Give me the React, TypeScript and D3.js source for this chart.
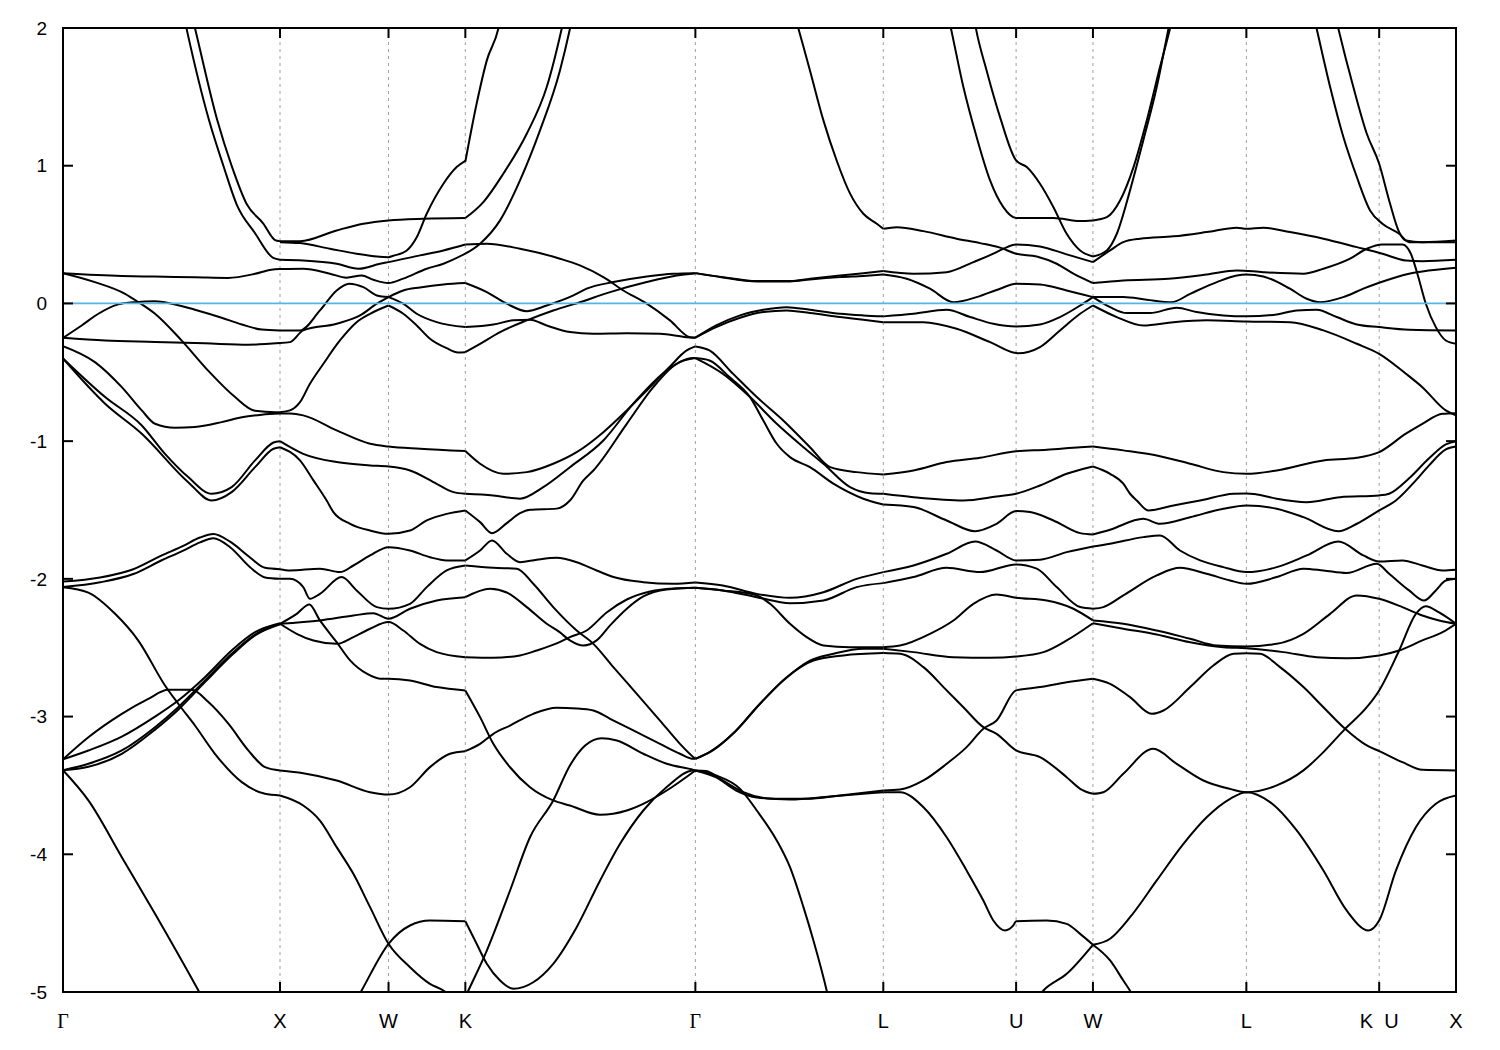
import { useEffect, useRef } from "react";
import * as d3 from "d3";

type Pt = [number, number];

// path coordinate of the high-symmetry points (units of 2pi/a)
const kTicks = [0, 1, 1.5, 1.854, 2.914, 3.78, 4.392, 4.746, 5.453, 6.065, 6.419];
const kLabels = ["Γ", "X", "W", "K", "Γ", "L", "U", "W", "L", "K  U", "X"];
const eTicks = [2, 1, 0, -1, -2, -3, -4, -5];

// Γ - X
const bandsGX: Pt[][] = [
  [[0.585, 2.15], [0.608, 2.0], [0.711, 1.33], [0.777, 1.0], [0.847, 0.72], [0.923, 0.58], [0.977, 0.46], [1, 0.452]],
  [[0.548, 2.15], [0.57, 1.99], [0.673, 1.33], [0.739, 1.0], [0.8, 0.72], [0.885, 0.51], [0.969, 0.33], [1, 0.317]],
  [[0, 0.22], [0.27, 0.2], [0.42, 0.195], [0.61, 0.19], [0.76, 0.185], [0.885, 0.215], [0.96, 0.245], [1, 0.25]],
  [[0, 0.22], [0.147, 0.155], [0.286, 0.07], [0.347, 0.01], [0.424, -0.075], [0.547, -0.27], [0.67, -0.49], [0.793, -0.68], [0.885, -0.78], [0.977, -0.79], [1, -0.79]],
  [[0, -0.25], [0.086, -0.16], [0.163, -0.075], [0.255, -0.007], [0.332, 0.009], [0.424, 0.015], [0.501, -0.002], [0.608, -0.046], [0.731, -0.104], [0.824, -0.153], [0.916, -0.19], [1, -0.196]],
  [[0, -0.25], [0.194, -0.27], [0.424, -0.28], [0.654, -0.29], [0.854, -0.3], [1, -0.288]],
  [[0, -0.31], [0.147, -0.426], [0.271, -0.608], [0.363, -0.777], [0.424, -0.874], [0.516, -0.903], [0.608, -0.898], [0.731, -0.862], [0.824, -0.826], [0.916, -0.808], [1, -0.8]],
  [[0, -0.4], [0.194, -0.68], [0.363, -0.886], [0.47, -1.092], [0.577, -1.261], [0.685, -1.382], [0.777, -1.334], [0.885, -1.14], [0.97, -1.01], [1, -1.0]],
  [[0, -0.4], [0.194, -0.728], [0.363, -0.946], [0.577, -1.298], [0.685, -1.431], [0.777, -1.37], [0.885, -1.189], [0.97, -1.055], [1, -1.044]],
  [[0, -2.02], [0.171, -1.99], [0.324, -1.93], [0.455, -1.83], [0.554, -1.76], [0.631, -1.7], [0.693, -1.675], [0.77, -1.73], [0.862, -1.845], [0.931, -1.92], [1, -1.93]],
  [[0, -2.06], [0.171, -2.025], [0.324, -1.965], [0.455, -1.865], [0.554, -1.795], [0.631, -1.735], [0.693, -1.705], [0.77, -1.77], [0.862, -1.915], [0.931, -1.99], [1, -2.0]],
  [[0, -2.06], [0.117, -2.1], [0.24, -2.254], [0.347, -2.448], [0.47, -2.774], [0.531, -2.907], [0.608, -3.065], [0.7, -3.27], [0.824, -3.476], [0.931, -3.561], [1, -3.573]],
  [[0, -3.31], [0.117, -3.15], [0.271, -2.98], [0.393, -2.871], [0.485, -2.806], [0.593, -2.806], [0.67, -2.895], [0.762, -3.052], [0.854, -3.246], [0.931, -3.367], [1, -3.391]],
  [[0, -3.31], [0.117, -3.246], [0.271, -3.145], [0.424, -3.0], [0.531, -2.883], [0.654, -2.714], [0.777, -2.52], [0.885, -2.387], [1, -2.322]],
  [[0, -3.39], [0.117, -3.343], [0.271, -3.246], [0.424, -3.077], [0.531, -2.932], [0.654, -2.738], [0.777, -2.544], [0.885, -2.404], [1, -2.326]],
  [[0, -3.39], [0.117, -3.365], [0.271, -3.27], [0.424, -3.095], [0.531, -2.95], [0.654, -2.75], [0.777, -2.555], [0.885, -2.41], [1, -2.33]],
  [[0, -3.39], [0.117, -3.609], [0.271, -4.021], [0.424, -4.432], [0.624, -4.989], [0.68, -5.15]],
];

// X - W - K
const bandsXWK: Pt[][] = [
  [[1, 0.452], [1.092, 0.452], [1.261, 0.53], [1.384, 0.579], [1.5, 0.603], [1.66, 0.615], [1.854, 0.62]],
  [[1, 0.445], [1.092, 0.438], [1.23, 0.397], [1.353, 0.361], [1.446, 0.34], [1.5, 0.336], [1.522, 0.346], [1.584, 0.385], [1.63, 0.481], [1.676, 0.651], [1.753, 0.869], [1.814, 0.99], [1.854, 1.035]],
  [[1, 0.317], [1.107, 0.312], [1.261, 0.288], [1.361, 0.252], [1.461, 0.288], [1.5, 0.3], [1.645, 0.349], [1.753, 0.385], [1.854, 0.428]],
  [[1, 0.25], [1.107, 0.252], [1.23, 0.216], [1.307, 0.187], [1.376, 0.203], [1.43, 0.172], [1.5, 0.148], [1.568, 0.18], [1.676, 0.252], [1.753, 0.288], [1.854, 0.361]],
  [[1, -0.196], [1.092, -0.196], [1.184, -0.051], [1.261, 0.094], [1.318, 0.143], [1.384, 0.118], [1.446, 0.058], [1.5, 0.046]],
  [[1, -0.288], [1.046, -0.281], [1.107, -0.196], [1.261, -0.147], [1.369, -0.087], [1.446, -0.002], [1.5, 0.046]],
  [[1, -0.79], [1.046, -0.777], [1.092, -0.717], [1.138, -0.583], [1.2, -0.438], [1.276, -0.269], [1.353, -0.136], [1.415, -0.075], [1.5, -0.015]],
  [[1.5, 0.046], [1.568, 0.094], [1.645, 0.116], [1.753, 0.138], [1.854, 0.148]],
  [[1.5, 0.046], [1.568, -0.002], [1.63, -0.075], [1.722, -0.136], [1.854, -0.172]],
  [[1.5, -0.015], [1.568, -0.075], [1.63, -0.16], [1.691, -0.256], [1.768, -0.325], [1.82, -0.356], [1.854, -0.354]],
  [[1, -0.8], [1.046, -0.8], [1.107, -0.813], [1.261, -0.922], [1.415, -1.019], [1.5, -1.039], [1.645, -1.055], [1.854, -1.072]],
  [[1, -1.0], [1.107, -1.092], [1.261, -1.152], [1.415, -1.176], [1.5, -1.184], [1.599, -1.213], [1.722, -1.31], [1.799, -1.37], [1.854, -1.382]],
  [[1, -1.044], [1.092, -1.14], [1.154, -1.285], [1.215, -1.431], [1.246, -1.515], [1.323, -1.6], [1.415, -1.649], [1.5, -1.673], [1.599, -1.649], [1.676, -1.576], [1.768, -1.528], [1.854, -1.503]],
  [[1, -1.93], [1.046, -1.939], [1.184, -1.926], [1.276, -1.951], [1.338, -1.903], [1.415, -1.83], [1.5, -1.77], [1.599, -1.794], [1.691, -1.843], [1.768, -1.866], [1.854, -1.866]],
  [[1, -2.0], [1.046, -2.0], [1.107, -2.06], [1.138, -2.145], [1.184, -2.109], [1.284, -1.987], [1.353, -2.084], [1.446, -2.205], [1.5, -2.217], [1.599, -2.181], [1.676, -2.06], [1.768, -1.939], [1.854, -1.903]],
  [[1, -2.326], [1.077, -2.254], [1.135, -2.186], [1.184, -2.302], [1.261, -2.46], [1.323, -2.592], [1.4, -2.689], [1.461, -2.725], [1.5, -2.725], [1.599, -2.738], [1.722, -2.786], [1.854, -2.81]],
  [[1, -2.326], [1.184, -2.302], [1.338, -2.266], [1.43, -2.249], [1.5, -2.29], [1.599, -2.217], [1.722, -2.157], [1.854, -2.133]],
  [[1, -2.326], [1.077, -2.399], [1.154, -2.448], [1.261, -2.472], [1.338, -2.423], [1.415, -2.362], [1.5, -2.314], [1.568, -2.375], [1.645, -2.472], [1.722, -2.532], [1.854, -2.569]],
  [[1, -3.391], [1.107, -3.411], [1.261, -3.464], [1.415, -3.549], [1.5, -3.566], [1.599, -3.513], [1.691, -3.367], [1.783, -3.27], [1.854, -3.251]],
  [[1, -3.573], [1.107, -3.646], [1.184, -3.755], [1.261, -3.948], [1.338, -4.142], [1.415, -4.384], [1.5, -4.65], [1.599, -4.82], [1.691, -4.941], [1.753, -4.989], [1.8, -5.05]],
  [[1.34, -5.09], [1.376, -4.989], [1.5, -4.65], [1.599, -4.517], [1.691, -4.481], [1.854, -4.486]],
];

// K - Γ
const bandsKG: Pt[][] = [
  [[1.854, 1.03], [1.906, 1.45], [1.953, 1.765], [2.006, 1.995], [2.02, 2.1]],
  [[1.854, 0.62], [1.937, 0.736], [2.029, 0.942], [2.137, 1.232], [2.229, 1.571], [2.298, 1.995], [2.31, 2.08]],
  [[1.854, 0.361], [1.922, 0.434], [2.014, 0.603], [2.106, 0.893], [2.198, 1.256], [2.29, 1.692], [2.336, 1.995], [2.35, 2.1]],
  [[1.854, 0.428], [1.953, 0.434], [2.106, 0.397], [2.29, 0.325], [2.382, 0.276], [2.49, 0.191], [2.582, 0.094], [2.69, -0.002], [2.797, -0.123], [2.889, -0.245], [2.914, -0.249]],
  [[1.854, 0.148], [1.953, 0.082], [2.045, -0.002], [2.137, -0.056], [2.229, -0.015], [2.352, 0.058], [2.413, 0.107], [2.536, 0.155], [2.69, 0.196], [2.812, 0.216], [2.914, 0.22]],
  [[1.854, -0.172], [1.983, -0.153], [2.075, -0.123], [2.152, -0.118], [2.229, -0.16], [2.336, -0.208], [2.444, -0.22], [2.598, -0.216], [2.751, -0.22], [2.874, -0.245], [2.914, -0.249]],
  [[1.854, -0.354], [1.922, -0.293], [2.014, -0.208], [2.137, -0.123], [2.259, -0.051], [2.382, 0.009], [2.521, 0.082], [2.69, 0.155], [2.828, 0.203], [2.914, 0.22]],
  [[1.854, -1.072], [1.922, -1.164], [2.029, -1.237], [2.137, -1.225], [2.259, -1.164], [2.367, -1.08], [2.49, -0.935], [2.598, -0.777], [2.69, -0.632], [2.797, -0.458], [2.874, -0.341], [2.914, -0.312]],
  [[1.854, -1.382], [1.983, -1.394], [2.106, -1.418], [2.213, -1.334], [2.336, -1.189], [2.49, -0.995], [2.628, -0.728], [2.782, -0.487], [2.905, -0.397], [2.914, -0.397]],
  [[1.854, -1.503], [1.922, -1.588], [1.977, -1.668], [2.045, -1.595], [2.106, -1.523], [2.152, -1.498], [2.275, -1.49], [2.336, -1.431], [2.398, -1.285], [2.444, -1.213], [2.598, -0.874], [2.72, -0.608], [2.828, -0.438], [2.914, -0.397]],
  [[1.854, -1.866], [1.922, -1.794], [1.977, -1.721], [2.045, -1.818], [2.106, -1.879], [2.183, -1.861], [2.275, -1.847], [2.367, -1.879], [2.459, -1.939], [2.536, -1.987], [2.674, -2.024], [2.812, -2.036], [2.914, -2.026]],
  [[1.854, -1.903], [1.983, -1.92], [2.091, -1.926], [2.167, -2.036], [2.259, -2.205], [2.367, -2.375], [2.444, -2.472], [2.536, -2.641], [2.644, -2.835], [2.751, -3.029], [2.843, -3.198], [2.905, -3.295], [2.914, -3.307]],
  [[1.854, -2.133], [1.968, -2.072], [2.045, -2.099], [2.137, -2.205], [2.229, -2.326], [2.29, -2.389], [2.336, -2.447], [2.398, -2.484], [2.459, -2.447], [2.521, -2.338], [2.598, -2.217], [2.674, -2.128], [2.782, -2.077], [2.914, -2.065]],
  [[1.854, -2.569], [1.983, -2.573], [2.106, -2.556], [2.183, -2.52], [2.275, -2.469], [2.336, -2.423], [2.413, -2.375], [2.505, -2.244], [2.598, -2.15], [2.705, -2.092], [2.812, -2.07], [2.914, -2.065]],
  [[1.854, -2.81], [1.922, -3.004], [1.983, -3.198], [2.06, -3.368], [2.152, -3.513], [2.259, -3.609], [2.336, -3.646], [2.475, -3.713], [2.598, -3.682], [2.69, -3.621], [2.782, -3.537], [2.914, -3.391]],
  [[1.854, -3.251], [1.922, -3.198], [1.983, -3.125], [2.06, -3.065], [2.167, -2.98], [2.275, -2.936], [2.367, -2.941], [2.444, -2.956], [2.521, -3.016], [2.628, -3.1], [2.751, -3.198], [2.843, -3.27], [2.905, -3.307], [2.914, -3.307]],
  [[1.854, -4.486], [1.906, -4.65], [1.953, -4.795], [2.014, -4.917], [2.075, -4.977], [2.167, -4.929], [2.259, -4.795], [2.367, -4.529], [2.475, -4.19], [2.567, -3.924], [2.674, -3.682], [2.782, -3.512], [2.905, -3.391], [2.914, -3.391]],
  [[1.835, -5.1], [1.868, -4.989], [1.953, -4.699], [2.06, -4.263], [2.152, -3.876], [2.259, -3.609], [2.336, -3.355], [2.406, -3.21], [2.482, -3.157], [2.552, -3.174], [2.674, -3.27], [2.782, -3.343], [2.905, -3.387], [2.914, -3.391]],
];

// Γ - L
const bandsGL: Pt[][] = [
  [[3.362, 2.15], [3.389, 1.995], [3.442, 1.692], [3.504, 1.329], [3.565, 1.038], [3.627, 0.797], [3.688, 0.651], [3.75, 0.579], [3.78, 0.542]],
  [[2.914, 0.22], [3.04, 0.191], [3.197, 0.162], [3.35, 0.162], [3.442, 0.179], [3.581, 0.203], [3.688, 0.22], [3.78, 0.235]],
  [[2.914, 0.22], [3.04, 0.189], [3.197, 0.16], [3.35, 0.16], [3.442, 0.174], [3.581, 0.191], [3.688, 0.2], [3.78, 0.21]],
  [[2.914, -0.249], [3.01, -0.16], [3.12, -0.087], [3.227, -0.046], [3.335, -0.027], [3.442, -0.046], [3.581, -0.075], [3.688, -0.087], [3.78, -0.094]],
  [[2.914, -0.249], [3.01, -0.172], [3.12, -0.104], [3.227, -0.063], [3.335, -0.051], [3.442, -0.07], [3.581, -0.099], [3.688, -0.118], [3.78, -0.136]],
  [[2.914, -0.312], [2.979, -0.341], [3.087, -0.51], [3.197, -0.68], [3.319, -0.85], [3.442, -1.044], [3.535, -1.189], [3.657, -1.225], [3.78, -1.242]],
  [[2.914, -0.397], [2.979, -0.414], [3.071, -0.535], [3.166, -0.68], [3.227, -0.85], [3.289, -1.019], [3.35, -1.116], [3.442, -1.189], [3.55, -1.309], [3.688, -1.418], [3.78, -1.46]],
  [[2.914, -0.397], [3.04, -0.51], [3.166, -0.68], [3.289, -0.874], [3.412, -1.044], [3.504, -1.164], [3.627, -1.334], [3.719, -1.378], [3.78, -1.382]],
  [[2.914, -2.026], [3.04, -2.048], [3.197, -2.109], [3.35, -2.138], [3.504, -2.097], [3.657, -2.0], [3.78, -1.951]],
  [[2.914, -2.065], [3.04, -2.084], [3.197, -2.133], [3.35, -2.177], [3.504, -2.157], [3.657, -2.06], [3.78, -2.031]],
  [[2.914, -2.065], [3.04, -2.084], [3.197, -2.12], [3.258, -2.181], [3.35, -2.326], [3.427, -2.423], [3.504, -2.484], [3.627, -2.496], [3.78, -2.496]],
  [[2.914, -3.307], [2.979, -3.258], [3.087, -3.125], [3.197, -2.932], [3.319, -2.738], [3.442, -2.593], [3.55, -2.544], [3.688, -2.508], [3.78, -2.508]],
  [[2.914, -3.307], [2.994, -3.246], [3.102, -3.101], [3.212, -2.907], [3.335, -2.714], [3.458, -2.593], [3.596, -2.556], [3.78, -2.539]],
  [[2.914, -3.391], [2.963, -3.395], [3.04, -3.464], [3.135, -3.549], [3.273, -3.597], [3.427, -3.597], [3.581, -3.573], [3.78, -3.537]],
  [[2.914, -3.391], [3.01, -3.442], [3.102, -3.537], [3.197, -3.588], [3.35, -3.602], [3.535, -3.58], [3.78, -3.549]],
  [[2.914, -3.391], [3.01, -3.428], [3.12, -3.525], [3.197, -3.682], [3.289, -3.9], [3.35, -4.094], [3.412, -4.384], [3.458, -4.626], [3.519, -4.989], [3.535, -5.1]],
];

// L - U - W
const bandsLUW: Pt[][] = [
  [[4.072, 2.14], [4.092, 1.995], [4.149, 1.571], [4.21, 1.208], [4.272, 0.893], [4.333, 0.699], [4.392, 0.62], [4.564, 0.62], [4.687, 0.598], [4.746, 0.603]],
  [[4.19, 2.15], [4.207, 1.995], [4.256, 1.692], [4.318, 1.353], [4.392, 1.038], [4.441, 0.99], [4.502, 0.869], [4.564, 0.699], [4.625, 0.506], [4.687, 0.385], [4.746, 0.341]],
  [[3.78, 0.542], [3.842, 0.554], [3.965, 0.525], [4.118, 0.47], [4.226, 0.438], [4.318, 0.405], [4.392, 0.361], [4.487, 0.341], [4.579, 0.288], [4.656, 0.216], [4.746, 0.148]],
  [[3.78, 0.235], [3.919, 0.216], [4.072, 0.227], [4.195, 0.3], [4.287, 0.361], [4.333, 0.397], [4.392, 0.428], [4.502, 0.414], [4.625, 0.356], [4.746, 0.3]],
  [[3.78, 0.21], [3.888, 0.179], [3.995, 0.107], [4.103, 0.009], [4.21, 0.046], [4.318, 0.107], [4.392, 0.143], [4.502, 0.138], [4.625, 0.094], [4.746, 0.046]],
  [[3.78, -0.094], [3.919, -0.075], [4.072, -0.046], [4.18, -0.099], [4.287, -0.148], [4.392, -0.167], [4.502, -0.153], [4.594, -0.099], [4.687, -0.015], [4.746, 0.046]],
  [[3.78, -0.136], [3.965, -0.136], [4.118, -0.184], [4.272, -0.281], [4.4, -0.362], [4.502, -0.317], [4.594, -0.196], [4.687, -0.075], [4.746, -0.015]],
  [[3.78, -1.242], [3.919, -1.213], [4.072, -1.152], [4.226, -1.121], [4.392, -1.073], [4.533, -1.063], [4.687, -1.044], [4.746, -1.039]],
  [[3.78, -1.382], [3.919, -1.407], [4.149, -1.431], [4.302, -1.402], [4.392, -1.382], [4.502, -1.322], [4.625, -1.237], [4.746, -1.184]],
  [[3.78, -1.46], [3.919, -1.479], [4.072, -1.576], [4.203, -1.654], [4.302, -1.6], [4.392, -1.508], [4.456, -1.515], [4.564, -1.576], [4.687, -1.668], [4.746, -1.678]],
  [[3.78, -1.951], [3.919, -1.903], [4.072, -1.818], [4.203, -1.729], [4.302, -1.794], [4.392, -1.866], [4.502, -1.861], [4.625, -1.806], [4.746, -1.765]],
  [[3.78, -2.031], [3.919, -1.987], [4.072, -1.92], [4.226, -1.951], [4.392, -1.895], [4.487, -1.926], [4.579, -2.06], [4.687, -2.205], [4.746, -2.217]],
  [[3.78, -2.496], [3.857, -2.484], [3.995, -2.399], [4.103, -2.302], [4.195, -2.181], [4.302, -2.113], [4.392, -2.137], [4.533, -2.157], [4.656, -2.217], [4.746, -2.302]],
  [[3.78, -2.508], [3.919, -2.532], [4.103, -2.569], [4.272, -2.573], [4.392, -2.564], [4.518, -2.532], [4.625, -2.447], [4.746, -2.322]],
  [[3.78, -2.539], [3.857, -2.544], [3.965, -2.641], [4.072, -2.81], [4.149, -2.932], [4.241, -3.077], [4.302, -3.125], [4.392, -3.246], [4.502, -3.295], [4.625, -3.44], [4.687, -3.525], [4.746, -3.561]],
  [[3.78, -3.537], [3.857, -3.53], [3.965, -3.464], [4.072, -3.343], [4.164, -3.222], [4.241, -3.089], [4.302, -3.028], [4.392, -2.81], [4.502, -2.786], [4.625, -2.75], [4.746, -2.725]],
  [[3.78, -3.549], [3.857, -3.549], [3.965, -3.658], [4.072, -3.876], [4.164, -4.118], [4.241, -4.336], [4.287, -4.481], [4.341, -4.553], [4.379, -4.517], [4.392, -4.486], [4.533, -4.481], [4.625, -4.505], [4.687, -4.578], [4.746, -4.657]],
  [[4.49, -5.04], [4.518, -4.989], [4.625, -4.868], [4.746, -4.657]],
];

// W - L - K|U - X
const bandsWLX: Pt[][] = [
  [[4.746, 0.603], [4.81, 0.627], [4.871, 0.748], [4.933, 0.99], [4.994, 1.329], [5.055, 1.716], [5.101, 1.995], [5.12, 2.12]],
  [[4.746, 0.341], [4.81, 0.385], [4.856, 0.506], [4.917, 0.821], [4.978, 1.184], [5.04, 1.571], [5.094, 1.995], [5.11, 2.12]],
  [[4.746, 0.3], [4.825, 0.385], [4.886, 0.445], [4.963, 0.47], [5.117, 0.487], [5.27, 0.518], [5.409, 0.55], [5.453, 0.542], [5.531, 0.55], [5.654, 0.518], [5.808, 0.47], [5.962, 0.409], [6.08, 0.361], [6.188, 0.312], [6.264, 0.307], [6.419, 0.317]],
  [[4.746, 0.148], [4.886, 0.167], [5.094, 0.179], [5.27, 0.21], [5.409, 0.24], [5.531, 0.227], [5.716, 0.216], [5.808, 0.252], [5.931, 0.325], [6.008, 0.397], [6.08, 0.428], [6.172, 0.428], [6.211, 0.361], [6.241, 0.216], [6.28, -0.002], [6.326, -0.172], [6.372, -0.269], [6.419, -0.293]],
  [[4.746, 0.046], [4.886, 0.046], [4.994, 0.027], [5.109, 0.009], [5.194, 0.07], [5.317, 0.155], [5.409, 0.203], [5.453, 0.21], [5.531, 0.196], [5.654, 0.107], [5.731, 0.034], [5.793, 0.009], [5.9, 0.046], [5.992, 0.107], [6.065, 0.15], [6.203, 0.216], [6.264, 0.232], [6.419, 0.259]],
  [[4.746, 0.046], [4.825, -0.027], [4.902, -0.07], [5.009, -0.07], [5.132, -0.031], [5.224, -0.063], [5.347, -0.087], [5.453, -0.094], [5.593, -0.08], [5.685, -0.051], [5.777, -0.046], [5.869, -0.099], [5.962, -0.153], [6.065, -0.172], [6.203, -0.191], [6.419, -0.196]],
  [[4.746, -0.015], [4.856, -0.099], [4.978, -0.16], [5.117, -0.136], [5.27, -0.123], [5.453, -0.131], [5.654, -0.136], [5.808, -0.196], [5.962, -0.293], [6.065, -0.366], [6.188, -0.51], [6.264, -0.608], [6.372, -0.777], [6.419, -0.813]],
  [[4.746, -1.039], [4.886, -1.067], [5.04, -1.104], [5.194, -1.164], [5.347, -1.225], [5.453, -1.237], [5.593, -1.213], [5.808, -1.14], [5.962, -1.121], [6.065, -1.08], [6.188, -0.946], [6.264, -0.874], [6.357, -0.801], [6.419, -0.797]],
  [[4.746, -1.184], [4.825, -1.237], [4.886, -1.309], [4.917, -1.382], [4.948, -1.431], [5.001, -1.503], [5.117, -1.467], [5.24, -1.431], [5.394, -1.382], [5.453, -1.38], [5.501, -1.387], [5.593, -1.418], [5.731, -1.443], [5.885, -1.407], [6.065, -1.394], [6.111, -1.382], [6.203, -1.27], [6.295, -1.125], [6.372, -1.024], [6.419, -1.0]],
  [[4.746, -1.678], [4.825, -1.643], [4.978, -1.564], [5.055, -1.6], [5.194, -1.552], [5.347, -1.491], [5.453, -1.467], [5.593, -1.491], [5.716, -1.552], [5.877, -1.654], [5.962, -1.6], [6.065, -1.503], [6.142, -1.431], [6.234, -1.285], [6.295, -1.176], [6.372, -1.06], [6.419, -1.039]],
  [[4.746, -1.765], [4.825, -1.745], [4.978, -1.697], [5.055, -1.685], [5.147, -1.794], [5.24, -1.866], [5.347, -1.915], [5.453, -1.951], [5.593, -1.915], [5.731, -1.83], [5.877, -1.729], [5.992, -1.83], [6.065, -1.874], [6.172, -1.866], [6.264, -1.903], [6.357, -1.939], [6.419, -1.934]],
  [[4.746, -2.217], [4.794, -2.205], [4.886, -2.12], [5.04, -1.975], [5.147, -1.92], [5.27, -1.963], [5.378, -2.012], [5.453, -2.036], [5.593, -1.987], [5.716, -1.926], [5.808, -1.939], [5.915, -1.958], [6.054, -1.89], [6.111, -1.963], [6.203, -2.084], [6.272, -2.157], [6.326, -2.084], [6.372, -2.012], [6.419, -2.0]],
  [[4.746, -2.302], [4.886, -2.326], [5.04, -2.375], [5.194, -2.435], [5.317, -2.484], [5.453, -2.491], [5.593, -2.472], [5.716, -2.399], [5.839, -2.254], [5.962, -2.12], [6.065, -2.145], [6.172, -2.205], [6.264, -2.266], [6.341, -2.302], [6.419, -2.326]],
  [[4.746, -2.322], [4.886, -2.362], [5.04, -2.404], [5.194, -2.46], [5.347, -2.496], [5.453, -2.504], [5.623, -2.532], [5.777, -2.569], [5.915, -2.576], [6.065, -2.556], [6.157, -2.52], [6.264, -2.447], [6.357, -2.387], [6.419, -2.326]],
  [[4.746, -2.725], [4.825, -2.762], [4.917, -2.859], [5.017, -2.98], [5.071, -2.956], [5.194, -2.786], [5.301, -2.629], [5.394, -2.544], [5.453, -2.54], [5.516, -2.544], [5.608, -2.641], [5.716, -2.786], [5.808, -2.932], [5.908, -3.089], [6.008, -3.21], [6.065, -3.251], [6.172, -3.331], [6.264, -3.387], [6.419, -3.391]],
  [[4.746, -3.561], [4.794, -3.549], [4.886, -3.415], [5.024, -3.234], [5.132, -3.343], [5.255, -3.464], [5.378, -3.525], [5.453, -3.549], [5.593, -3.5], [5.716, -3.391], [5.808, -3.258], [5.908, -3.089], [6.008, -2.932], [6.065, -2.81], [6.157, -2.52], [6.234, -2.254], [6.28, -2.198], [6.341, -2.244], [6.419, -2.326]],
  [[4.746, -4.657], [4.825, -4.613], [4.917, -4.457], [5.04, -4.19], [5.163, -3.924], [5.27, -3.731], [5.378, -3.597], [5.453, -3.549], [5.562, -3.621], [5.685, -3.827], [5.808, -4.118], [5.915, -4.408], [6.016, -4.553], [6.065, -4.481], [6.142, -4.118], [6.234, -3.803], [6.326, -3.633], [6.419, -3.573]],
  [[4.746, -4.657], [4.825, -4.771], [4.886, -4.917], [4.925, -5.013], [4.94, -5.06]],
  [[5.755, 2.15], [5.777, 1.995], [5.839, 1.571], [5.9, 1.208], [5.962, 0.918], [6.023, 0.675], [6.08, 0.579], [6.157, 0.506], [6.203, 0.445], [6.419, 0.445]],
  [[5.854, 2.15], [5.877, 1.995], [5.946, 1.571], [6.008, 1.232], [6.065, 1.014], [6.111, 0.748], [6.157, 0.518], [6.188, 0.457], [6.264, 0.445], [6.419, 0.457]],
];

export default function App() {
  const svgRef = useRef<SVGSVGElement | null>(null);

  useEffect(() => {
    if (!svgRef.current) return;
    document.body.style.margin = "0";

    const W = 1500, H = 1050;
    const margin = { top: 28, right: 44, bottom: 58, left: 63 };
    const x0 = margin.left, x1 = W - margin.right;
    const y0 = margin.top, y1 = H - margin.bottom;

    const svg = d3.select(svgRef.current);
    svg.selectAll("*").remove();
    svg.attr("width", W).attr("height", H).attr("viewBox", `0 0 ${W} ${H}`);
    svg.append("rect").attr("width", W).attr("height", H).attr("fill", "#fff");

    const x = d3.scaleLinear().domain([0, kTicks[kTicks.length - 1]]).range([x0, x1]);
    const y = d3.scaleLinear().domain([-5, 2]).range([y1, y0]);

    svg.append("defs").append("clipPath").attr("id", "plot-clip")
      .append("rect").attr("x", x0).attr("y", y0).attr("width", x1 - x0).attr("height", y1 - y0);

    // dashed separators at the inner high-symmetry points
    svg.append("g").selectAll("line").data(kTicks.slice(1, -1)).join("line")
      .attr("x1", (d) => x(d)).attr("x2", (d) => x(d))
      .attr("y1", y0).attr("y2", y1)
      .attr("stroke", "#a0a0a0").attr("stroke-width", 1).attr("stroke-dasharray", "3,4");

    const line = d3.line<Pt>().x((d) => x(d[0])).y((d) => y(d[1])).curve(d3.curveMonotoneX);

    const all = [...bandsGX, ...bandsXWK, ...bandsKG, ...bandsGL, ...bandsLUW, ...bandsWLX];
    svg.append("g").attr("clip-path", "url(#plot-clip)")
      .selectAll("path").data(all).join("path")
      .attr("d", (d) => line(d))
      .attr("fill", "none").attr("stroke", "#000").attr("stroke-width", 2)
      .attr("stroke-linejoin", "round");

    // Fermi level
    svg.append("line")
      .attr("x1", x0).attr("x2", x1).attr("y1", y(0)).attr("y2", y(0))
      .attr("stroke", "#56b4e9").attr("stroke-width", 1.8);

    // frame + ticks
    svg.append("rect").attr("x", x0).attr("y", y0).attr("width", x1 - x0).attr("height", y1 - y0)
      .attr("fill", "none").attr("stroke", "#000").attr("stroke-width", 2);

    const tl = 10;
    const ticks = svg.append("g").attr("stroke", "#000").attr("stroke-width", 2);
    eTicks.forEach((t) => {
      ticks.append("line").attr("x1", x0).attr("x2", x0 + tl).attr("y1", y(t)).attr("y2", y(t));
      ticks.append("line").attr("x1", x1).attr("x2", x1 - tl).attr("y1", y(t)).attr("y2", y(t));
    });
    kTicks.forEach((k) => {
      ticks.append("line").attr("x1", x(k)).attr("x2", x(k)).attr("y1", y1).attr("y2", y1 - tl);
      ticks.append("line").attr("x1", x(k)).attr("x2", x(k)).attr("y1", y0).attr("y2", y0 + tl);
    });

    const font = "'Liberation Sans', Arial, Helvetica, sans-serif";
    svg.append("g").selectAll("text").data(eTicks).join("text")
      .attr("x", x0 - 16).attr("y", (d) => y(d)).attr("dy", "0.35em")
      .attr("text-anchor", "end").attr("font-family", font).attr("font-size", 19)
      .text((d) => String(d));

    svg.append("g").selectAll("text").data(kTicks).join("text")
      .attr("x", (d) => x(d)).attr("y", y1 + 36)
      .attr("text-anchor", "middle")
      .attr("font-family", (_, i) => (kLabels[i] === "Γ" ? "'Liberation Serif', 'DejaVu Serif', serif" : font))
      .attr("font-size", 20)
      .attr("xml:space", "preserve")
      .text((_, i) => kLabels[i]);
  }, []);

  return <svg ref={svgRef} style={{ display: "block" }} />;
}
